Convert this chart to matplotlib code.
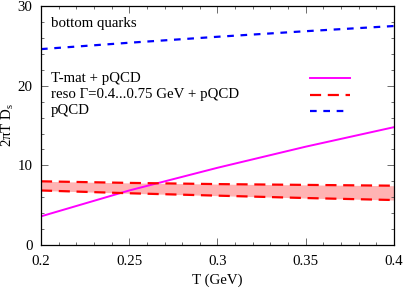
import numpy as np
import matplotlib
matplotlib.use("Agg")
import matplotlib.pyplot as plt
from matplotlib.ticker import MultipleLocator

plt.rcParams.update({'font.size': 10.7, 'font.family': 'Liberation Serif'})

# data
T = [0.2, 0.25, 0.3, 0.35, 0.4]
tmat = [3.6, 6.85, 9.7, 12.35, 14.8]
reso_hi = [8.0, 7.8, 7.65, 7.55, 7.45]
reso_lo = [6.85, 6.5, 6.2, 5.9, 5.65]
pqcd = [24.6, 25.4, 26.15, 26.85, 27.5]
labels = ['T-mat + pQCD', 'reso \u0393=0.4...0.75 GeV + pQCD', 'pQCD']

fig = plt.figure(figsize=(4.07, 2.91), dpi=100)
ax = fig.add_axes([0.1007, 0.158, 0.8673, 0.821])

ax.fill_between(T, reso_lo, reso_hi, color='#ffb3b3', lw=0)
ax.plot(T, tmat, color='#ff00ff', lw=1.4)
ax.plot(T, reso_hi, color='#ff0000', lw=1.6, dashes=(5, 3))
ax.plot(T, reso_lo, color='#ff0000', lw=1.6, dashes=(5, 3))
ax.plot(T, pqcd, color='#0000ff', lw=1.6, dashes=(3, 3))

# legend: labels left, line samples right
styles = [dict(color='#ff00ff', lw=1.4),
          dict(color='#ff0000', lw=1.6, dashes=(5, 3)),
          dict(color='#0000ff', lw=1.6, dashes=(3, 3))]
ys = [0.699, 0.628, 0.561]
for lab, st, y in zip(labels, styles, ys):
    ax.text(0.028, y, lab, transform=ax.transAxes, va='center', ha='left')
    ax.plot([0.762, 0.875], [y, y], transform=ax.transAxes, **st)
ax.text(0.028, 0.929, 'bottom quarks', transform=ax.transAxes, va='center', ha='left')

ax.set_xlim(0.2, 0.4)
ax.set_ylim(0, 30)
ax.set_xticks([0.2, 0.25, 0.3, 0.35, 0.4])
ax.set_xticklabels(['0.2', '0.25', '0.3', '0.35', '0.4'])
ax.set_yticks([0, 10, 20, 30])
ax.xaxis.set_minor_locator(MultipleLocator(0.01))
ax.yaxis.set_minor_locator(MultipleLocator(2))
ax.tick_params(which='both', direction='in', top=True, right=True, width=0.6, color='#555555')
ax.tick_params(which='major', length=5)
ax.tick_params(axis='x', which='major', pad=7)
ax.tick_params(axis='y', which='major', pad=6)
ax.tick_params(which='minor', length=2.5)
for s in ax.spines.values():
    s.set_linewidth(0.9)

ax.set_xlabel('T (GeV)', labelpad=4)
ax.set_ylabel(r'2$\mathregular{\pi}$T $\mathregular{D_s}$')
ax.yaxis.set_label_coords(-0.071, 0.502)

fig.savefig('out.png', dpi=100)
